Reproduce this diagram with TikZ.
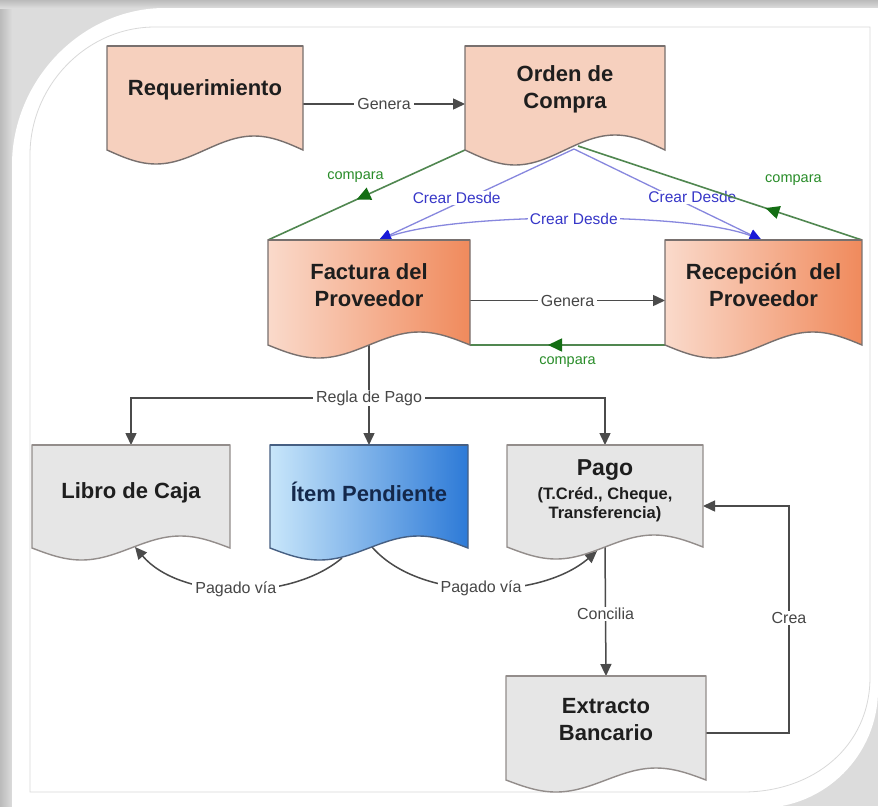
\documentclass[tikz,border=0pt]{standalone}
\usepackage{fontspec}
\setmainfont{Liberation Sans}
\usetikzlibrary{arrows.meta,decorations.markings,calc}

\definecolor{bgray}{RGB}{220,220,220}
\definecolor{framel}{RGB}{212,212,212}
\definecolor{peach}{RGB}{246,208,190}
\definecolor{facl}{RGB}{250,218,203}
\definecolor{facr}{RGB}{240,138,92}
\definecolor{itml}{RGB}{200,230,250}
\definecolor{itmr}{RGB}{45,122,215}
\definecolor{lgray}{RGB}{230,230,230}
\definecolor{edge}{RGB}{120,112,110}
\definecolor{itmedge}{RGB}{70,95,130}
\definecolor{lineg}{RGB}{75,75,75}
\definecolor{labg}{RGB}{70,70,70}
\definecolor{gline}{RGB}{80,135,80}
\definecolor{gtip}{RGB}{20,110,20}
\definecolor{gtext}{RGB}{40,140,40}
\definecolor{bline}{RGB}{135,135,222}
\definecolor{btip}{RGB}{25,25,215}
\definecolor{btext}{RGB}{55,55,200}
\definecolor{ttext}{RGB}{30,30,30}

\newcommand\docshape[6]{%
  \path[#1] (#2,#3) -- ({#2+#4},#3) -- ({#2+#4},{#3+#5})
    sin ({#2+0.75*#4},{#3+#5-#6}) cos ({#2+0.5*#4},{#3+#5})
    sin ({#2+0.25*#4},{#3+#5+#6}) cos (#2,{#3+#5}) -- cycle;
  \draw[line width=2.2pt, #1] (#2,#3) -- ({#2+#4},#3);}

\tikzset{
  boxarea/.style={rectangle, inner sep=0pt, outer sep=0pt},
  title/.style={font=\fontsize{22}{27}\selectfont\bfseries, text=ttext, align=center},
  lab/.style={font=\fontsize{16}{19}\selectfont, text=labg, fill=white, inner xsep=3pt, inner ysep=1pt},
  glab/.style={font=\fontsize{14.5}{17}\selectfont, text=gtext},
  blab/.style={font=\fontsize{15.5}{18}\selectfont, text=btext, fill=white, inner xsep=2pt, inner ysep=1pt},
  conn/.style={draw=lineg, line width=1.5pt},
  tipk/.style={-{Triangle[length=12pt,width=11pt]}},
  arr/.style={conn, tipk},
  gconn/.style={draw=gline, line width=1.6pt},
  gmid/.style={decoration={markings, mark=at position #1 with {\arrow{Triangle[length=14pt,width=13pt,color=gtip]}}}, postaction={decorate}},
  bconn/.style={draw=bline, line width=1.3pt},
  peachbox/.style={fill=peach, draw=edge, line width=1.4pt},
  facbox/.style={left color=facl, right color=facr, draw=edge, line width=1.4pt},
  graybox/.style={fill=lgray, draw=edge!80, line width=1.4pt},
  itembox/.style={left color=itml, right color=itmr, draw=itmedge, line width=1.4pt},
}

\begin{document}
\begin{tikzpicture}[x=1pt,y=-1pt]
\useasboundingbox (0,0) rectangle (878,806);

% ---------- frame ----------
\fill[bgray] (0,0) rectangle (878,806);
\shade[left color=framel!88!black, right color=bgray] (0,0) rectangle (12,806);
\shade[top color=framel!88!black, bottom color=bgray] (0,0) rectangle (878,8);
\fill[white] (12,830) -- (12,165) .. controls (12,81) and (81,8) .. (165,8)
  -- (878,8) -- (878,690) .. controls (878,755) and (825,808) .. (760,808) -- (760,830) -- cycle;
\draw[black!15, line width=0.8pt] (30,792) -- (30,155) .. controls (30,86) and (86,27) .. (155,27)
  -- (870,27) -- (870,677) .. controls (870,747) and (813,792) .. (743,792) -- cycle;

% ---------- box areas (named) ----------
\node[boxarea, minimum width=196pt, minimum height=104pt] (req)  at (205,98) {};
\node[boxarea, minimum width=200pt, minimum height=104pt] (ord)  at (565,98) {};
\node[boxarea, minimum width=202pt, minimum height=105pt] (fac)  at (369,292.5) {};
\node[boxarea, minimum width=197pt, minimum height=105pt] (rec)  at (763.5,292.5) {};
\node[boxarea, minimum width=198pt, minimum height=103pt] (lib)  at (131,496.5) {};
\node[boxarea, minimum width=198pt, minimum height=103pt] (item) at (369,496.5) {};
\node[boxarea, minimum width=196pt, minimum height=102pt] (pago) at (605,496) {};
\node[boxarea, minimum width=200pt, minimum height=104pt] (ext)  at (606,728) {};

\coordinate (bo) at (574,149);
\coordinate (gr) at (578,146);
\coordinate (rp) at (369,398);
\coordinate (crea) at (789,618);
\coordinate (itl) at (342,558);
\coordinate (itr) at (372,547);
\coordinate (libw) at (135,547);
\coordinate (pagw) at (597,551);
\coordinate (ft) at ([xshift=10pt]fac.north);
\coordinate (rt) at ([xshift=-2pt]rec.north);

% ---------- blue "Crear Desde" ----------
\draw[bconn, -{Triangle[length=12pt,width=11pt,color=btip]}] (bo) -- (ft)
  node[blab, pos=0.54, xshift=-12pt] {Crear Desde};
\draw[bconn, -{Triangle[length=12pt,width=11pt,color=btip]}] (bo) -- (rt)
  node[blab, pos=0.53, xshift=19pt] {Crear Desde};
\draw[bconn, {Triangle[length=12pt,width=11pt,color=btip]}-{Triangle[length=12pt,width=11pt,color=btip]}]
  (ft) .. controls (460,212) and (690,212) .. (rt)
  node[blab, pos=0.5] {Crear Desde};

% ---------- green "compara" ----------
\draw[gconn, gmid=0.55] (ord.south west) -- (fac.north west)
  node[glab, pos=0.52, xshift=-7pt, yshift=20pt] {compara};
\draw[gconn, gmid=0.34] (rec.north east) -- (gr)
  node[glab, pos=0.34, xshift=28pt, yshift=28pt] {compara};
\draw[gconn, gmid=0.6] (rec.south west) -- (fac.south east)
  node[glab, pos=0.5, yshift=-17pt] {compara};

% ---------- black connectors ----------
\draw[arr] ([yshift=-6pt]req.east) -- ([yshift=-6pt]ord.west) node[lab, midway] {Genera};
\draw[arr] ([yshift=-8pt]fac.east) -- ([yshift=-8pt]rec.west) node[lab, midway] {Genera};
\draw[conn] (fac.south) -- (rp);
\draw[arr] (rp) -| (lib.north);
\draw[arr] (rp) -| (pago.north);
\draw[arr] (rp) -- (item.north);
\node[lab] at (rp) {Regla de Pago};
\draw[arr] (itl) .. controls (290,602) and (180,600) .. (libw) node[lab, pos=0.5] {Pagado vía};
\draw[arr] (itr) .. controls (420,602) and (540,600) .. (pagw) node[lab, pos=0.5] {Pagado vía};
\draw[arr] (pago.south) -- (ext.north) node[lab, pos=0.52] {Concilia};
\draw[arr] ([yshift=-5pt]ext.east) -| (crea) |- ([yshift=-10pt]pago.east);
\node[lab] at (crea) {Crea};

% ---------- document shapes ----------
\docshape{peachbox}{107}{46}{196}{104}{14}
\docshape{peachbox}{465}{46}{200}{104}{15}
\docshape{facbox}{268}{240}{202}{105}{13}
\docshape{facbox}{665}{240}{197}{105}{13}
\docshape{graybox}{32}{445}{198}{103}{12}
\docshape{itembox}{270}{445}{198}{103}{12}
\docshape{graybox}{507}{445}{196}{102}{12}
\docshape{graybox}{506}{676}{200}{104}{12}

% ---------- texts ----------
\node[title] at ([yshift=8pt]req.center) {Requerimiento};
\node[title] at ([yshift=8.5pt]ord.center) {Orden de\\Compra};
\node[title] at ([yshift=7pt]fac.center) {Factura del\\Proveedor};
\node[title] at ([yshift=7pt]rec.center) {Recepción\ \ del\\Proveedor};
\node[title] at ([yshift=4pt]lib.center) {Libro de Caja};
\node[title, text={rgb,255:red,20;green,40;blue,75}] at ([yshift=4.5pt]item.center) {Ítem Pendiente};
\node[title, font=\bfseries] at ([yshift=5pt]pago.center) {{\fontsize{23}{25}\selectfont Pago}\\[6pt]
  {\fontsize{16.5}{19}\selectfont (T.Créd., Cheque,}\\[3pt]{\fontsize{16.5}{19}\selectfont Transferencia)}};
\node[title] at ([yshift=8pt]ext.center) {Extracto\\Bancario};
\end{tikzpicture}
\end{document}
